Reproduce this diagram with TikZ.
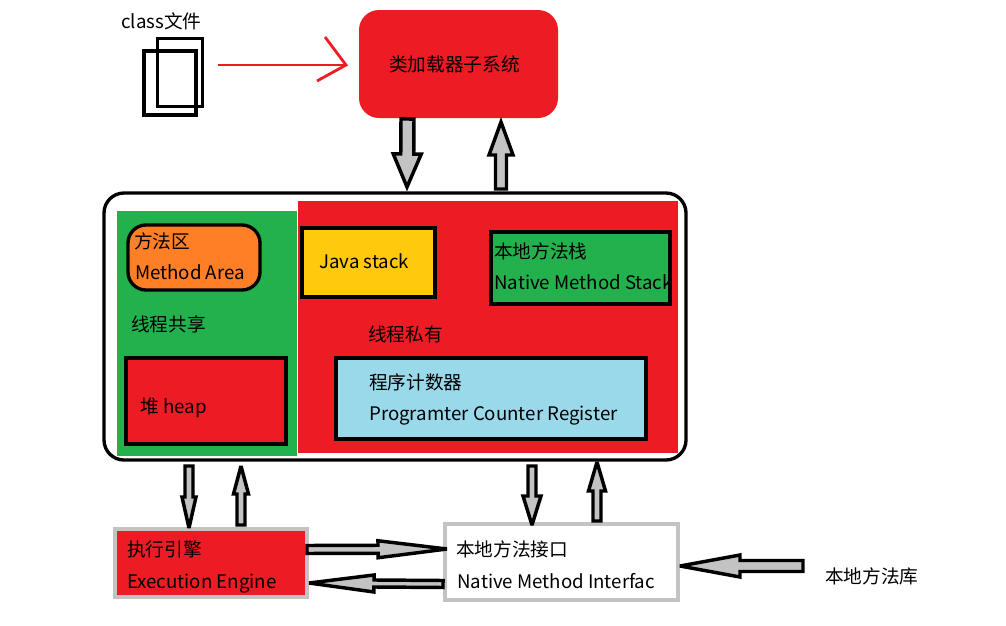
\documentclass[tikz,border=0pt]{standalone}
\usepackage{fontspec}
\setmainfont{Noto Sans CJK SC}
\usetikzlibrary{calc, positioning}
\definecolor{jvmred}{HTML}{ED1C24}
\definecolor{jvmgreen}{HTML}{22B14C}
\definecolor{jvmorange}{HTML}{FF7F27}
\definecolor{jvmyellow}{HTML}{FFC90E}
\definecolor{jvmblue}{HTML}{99D9EA}
\definecolor{jvmgray}{HTML}{C3C3C3}
\tikzset{
    area/.style={minimum width=#1*0.75pt, outer sep=0pt, inner sep=0pt},
    tall/.style={minimum height=#1*0.75pt},
    blackbox/.style={draw=black, line width=2.5pt},
    graybox/.style={draw=jvmgray, line width=2.5pt},
    txt/.style={anchor=west, inner sep=0pt, text height=14pt, text depth=2.5pt, font=\fontsize{14}{16}\selectfont},
    blockarrow/.style={draw=black, fill=jvmgray, line width=2.6pt, miter limit=3},
}
% start, tip, half shaft, half head, head length (all in pixels of the picture)
\newcommand{\blockarrow}[5]{
    \coordinate (hb) at ($(#2)!#5*0.75pt!(#1)$);
    \draw[blockarrow] ($(#1)!#3*0.75pt!90:(#2)$) -- ($(hb)!#3*0.75pt!90:(#2)$) -- ($(hb)!#4*0.75pt!90:(#2)$)
        -- (#2) -- ($(hb)!#4*0.75pt!-90:(#2)$) -- ($(hb)!#3*0.75pt!-90:(#2)$) -- ($(#1)!#3*0.75pt!-90:(#2)$) -- cycle;
}

\begin{document}
\begin{tikzpicture}[x=0.75pt, y=-0.75pt]
    \useasboundingbox (0,0) rectangle (1006,625);

    \node[area=45, tall=68, blackbox] (classback) at (180,72.5) {};
    \node[area=52, tall=64, blackbox] (classfront) at (170,83) {};
    \node[txt] (classlabel) at (121,21) {class文件};

    \node[area=199, tall=108, fill=jvmred, rounded corners=15pt] (loader) at (458.5,64) {};
    \node[txt] (loaderlabel) at (389,64) {类加载器子系统};

    \coordinate (fstart) at (218,65);
    \coordinate (ftip) at (346,65);
    \coordinate (farma) at (325,37);
    \coordinate (farmb) at (317,81);
    \draw[jvmred, line width=2.1pt] (fstart) -- (ftip);
    \draw[jvmred, line width=2.1pt] (farma) -- (ftip) -- (farmb);

    \node[area=582, tall=267, blackbox, fill=white, rounded corners=15pt] (jvm) at (395,326.5) {};
    \node[area=180, tall=245, fill=jvmgreen] (shared) at (207,333.5) {};
    \node[area=380, tall=252, fill=jvmred] (private) at (488,327) {};

    \node[area=132, tall=65, blackbox, fill=jvmorange, rounded corners=13.5pt] (method) at (194,257.5) {};
    \node[txt] (methodcn) at (134,241) {方法区};
    \node[txt] (methoden) at (135,272) {Method Area};
    \node[txt] (sharedlabel) at (131,324) {线程共享};
    \node[area=160, tall=86, blackbox, fill=jvmred] (heap) at (206,401) {};
    \node[txt] (heaplabel) at (140,406) {堆 heap};

    \node[area=133, tall=69, blackbox, fill=jvmyellow] (stack) at (368.5,262.5) {};
    \node[txt] (stacklabel) at (319,261) {Java stack};
    \node[area=179, tall=72, blackbox, fill=jvmgreen] (native) at (580.5,268) {};
    \node[txt] (nativecn) at (494,251) {本地方法栈};
    \node[txt] (nativeen) at (494,282) {Native Method Stack};
    \node[txt] (privatelabel) at (368,334) {线程私有};
    \node[area=310, tall=81, blackbox, fill=jvmblue] (counter) at (491,398.5) {};
    \node[txt] (countercn) at (369,382) {程序计数器};
    \node[txt] (counteren) at (369,413) {Programter Counter Register};

    \node[area=192, tall=68, graybox, fill=jvmred] (engine) at (211,563) {};
    \node[txt] (enginecn) at (127,549) {执行引擎};
    \node[txt] (engineen) at (127,581) {Execution Engine};
    \node[area=233, tall=76, graybox, fill=white] (iface) at (561.5,562) {};
    \node[txt] (ifacecn) at (456,549) {本地方法接口};
    \node[txt] (ifaceen) at (457,581) {Native Method Interfac};
    \node[txt] (library) at (825,576) {本地方法库};

    \coordinate (loaddowna) at (407.5,119);
    \coordinate (loaddownb) at (407,187);
    \coordinate (loadupa) at (501,189);
    \coordinate (loadupb) at (501,122);
    \coordinate (enginedowna) at (189,466);
    \coordinate (enginedownb) at (189,528);
    \coordinate (engineupa) at (241,525);
    \coordinate (engineupb) at (241,466);
    \coordinate (ifacedowna) at (532,466);
    \coordinate (ifacedownb) at (532,525);
    \coordinate (ifaceupa) at (597,521);
    \coordinate (ifaceupb) at (597,462);
    \coordinate (toifacea) at (307,549.5);
    \coordinate (toifaceb) at (447,549);
    \coordinate (toenginea) at (443,584);
    \coordinate (toengineb) at (309,583);
    \coordinate (librarya) at (803,566);
    \coordinate (libraryb) at (680,566);

    \blockarrow{loaddowna}{loaddownb}{6.5}{14}{33}
    \blockarrow{loadupa}{loadupb}{5.5}{12}{33}
    \blockarrow{enginedowna}{enginedownb}{4}{7}{31}
    \blockarrow{engineupa}{engineupb}{4}{7.5}{28}
    \blockarrow{ifacedowna}{ifacedownb}{4}{9}{29}
    \blockarrow{ifaceupa}{ifaceupb}{4}{8.5}{29}
    \blockarrow{toifacea}{toifaceb}{4}{8.5}{69}
    \blockarrow{toenginea}{toengineb}{3.5}{8.5}{65}
    \blockarrow{librarya}{libraryb}{5.5}{11}{60}
\end{tikzpicture}
\end{document}
